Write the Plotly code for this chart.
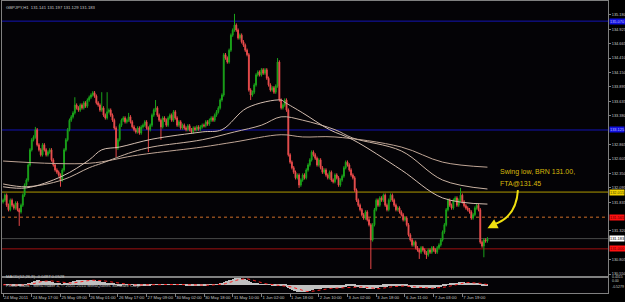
import plotly.graph_objects as go
import pandas as pd

# ---------------- data ----------------
chart_title = "GBPJPY,H1  131.141 131.197 131.129 131.183"

first_open = 131.84
closes = [
    131.87, 131.96, 131.78, 131.70, 131.87, 131.78, 131.73, 131.82, 131.70, 131.66,
    131.78, 131.96, 132.14, 132.23, 132.50, 132.77, 132.95, 133.00, 133.13, 132.86,
    132.77, 132.68, 132.86, 132.77, 132.68, 132.73, 132.77, 132.59, 132.50, 132.41,
    132.37, 132.32, 132.23, 132.41, 132.77, 132.95, 133.13, 133.30, 133.36, 133.43,
    133.57, 133.52, 133.48, 133.57, 133.52, 133.61, 133.55, 133.66, 133.71, 133.75,
    133.79, 133.73, 133.61, 133.57, 133.48, 133.52, 133.39, 133.34, 133.45, 133.48,
    133.39, 133.30, 133.16, 132.80, 132.95, 133.21, 133.30, 133.34, 133.27, 133.30,
    133.36, 133.27, 133.18, 133.13, 133.09, 133.16, 133.07, 133.18, 133.21, 133.27,
    133.16, 133.13, 133.21, 133.39, 133.48, 133.52, 133.39, 133.30, 133.18, 133.34,
    133.30, 133.21, 133.34, 133.39, 133.30, 133.45, 133.34, 133.21, 133.27, 133.16,
    133.21, 133.16, 133.13, 133.20, 133.13, 133.09, 133.16, 133.13, 133.18, 133.14,
    133.18, 133.21, 133.20, 133.27, 133.23, 133.30, 133.34, 133.30, 133.39, 133.45,
    133.52, 133.66, 133.75, 134.47, 134.41, 134.34, 134.55, 134.82, 134.91, 135.00,
    134.91, 134.77, 134.82, 134.70, 134.64, 134.55, 134.47, 133.84, 133.75, 133.80,
    133.93, 134.11, 134.16, 134.11, 134.20, 134.14, 134.20, 134.05, 133.93, 133.84,
    133.88, 133.80, 133.91, 134.34, 133.66, 133.52, 133.57, 133.66, 133.48, 132.68,
    132.55, 132.45, 132.37, 132.27, 132.32, 132.14, 132.23, 132.32, 132.27, 132.41,
    132.50, 132.59, 132.73, 132.68, 132.62, 132.50, 132.59, 132.45, 132.37, 132.41,
    132.32, 132.27, 132.37, 132.23, 132.20, 132.32, 132.27, 132.14, 132.23, 132.30,
    132.45, 132.55, 132.50, 132.41, 132.32, 132.27, 132.05, 131.87, 131.78, 131.70,
    131.61, 131.55, 131.66, 131.52, 131.43, 131.16, 131.43, 131.70, 131.87, 131.78,
    131.91, 131.87, 131.96, 131.78, 131.70, 131.87, 131.96, 131.87, 131.78, 131.70,
    131.73, 131.66, 131.61, 131.52, 131.55, 131.43, 131.25, 131.16, 131.07, 131.12,
    131.02, 130.98, 130.94, 131.02, 130.98, 130.93, 130.89, 130.98, 130.94, 131.02,
    130.98, 130.94, 131.02, 131.07, 131.16, 131.30, 131.43, 131.70, 131.87, 131.78,
    131.73, 131.87, 131.91, 131.78, 131.87, 131.96, 131.84, 131.77, 131.73, 131.70,
    131.66, 131.55, 131.61, 131.73, 131.78, 131.70, 131.12, 131.05, 131.16, 131.14, 131.18,
]
typical_wick = 0.03
high_spikes = {18: 133.18, 40: 133.71, 55: 133.80, 58: 133.80, 70: 133.43, 85: 133.66,
               95: 133.48, 129: 135.20, 153: 134.41, 255: 132.09}
low_spikes = {9: 131.41, 32: 132.11, 63: 132.64, 81: 132.73, 88: 132.95, 138: 133.66,
              165: 132.09, 205: 130.64, 232: 130.82, 236: 130.82, 268: 130.85}

# moving averages read at key points (bar index, price)
ma_slow_bars = [0, 48, 72, 83, 111, 129, 155, 167, 185, 222, 245, 270]
ma_slow_vals = [132.57, 132.53, 132.66, 132.71, 132.82, 132.91, 133.04, 133.00, 133.00, 132.82, 132.55, 132.46]
ma_mid_bars = [0, 13, 33, 48, 55, 72, 83, 111, 129, 144, 155, 167, 185, 195, 222, 245, 270]
ma_mid_vals = [132.16, 132.11, 132.23, 132.45, 132.53, 132.73, 132.82, 132.95, 133.09, 133.21, 133.36,
               133.30, 133.13, 132.98, 132.75, 132.23, 132.07]
ma_fast_bars = [0, 13, 33, 48, 55, 65, 83, 111, 122, 136, 155, 157, 167, 182, 195, 222, 245, 270]
ma_fast_vals = [132.11, 132.09, 132.30, 132.59, 132.77, 132.82, 132.96, 133.09, 133.13, 133.52, 133.66,
                133.62, 133.43, 133.13, 132.95, 132.41, 131.91, 131.80]

# horizontal levels
blue_levels = [135.07, 133.125]
blue_labels = ["135.070", "133.125"]
yellow_level, yellow_label = 132.015, "132.015"
orange_level, orange_label = 131.565, "131.565"
current_level, current_label = 131.183, "131.183"
red_level, red_label = 131.00, "131.000"

# price scale labels (those hidden under the coloured level boxes are omitted)
price_tick_labels = ["135.180", "134.925", "134.665", "134.410", "134.150", "133.895", "133.635",
                     "133.380", "132.865", "132.605", "132.350", "132.095", "131.835",
                     "131.320", "130.805", "130.550"]

time_tick_bars = [0, 16, 32, 48, 64, 80, 96, 112, 128, 144, 160, 176, 192, 208, 224, 240, 256]
time_tick_labels = ["24 May 2011", "24 May 17:00", "25 May 09:00", "26 May 01:00", "26 May 17:00",
                    "27 May 09:00", "30 May 02:00", "30 May 18:00", "31 May 10:00", "1 Jun 02:00",
                    "1 Jun 18:00", "2 Jun 10:00", "3 Jun 02:00", "3 Jun 18:00", "6 Jun 11:00",
                    "7 Jun 03:00", "7 Jun 19:00"]

macd_range = [-0.5279, 0.4315]
macd_labels = ["0.4315", "0.00", "-0.5279"]
macd_title = "MACD(12,26,9) -0.0487 0.0528"
copyright_text = "FXDD Malta - MetaTrader 4, \u00a9 2001-2010 MetaQuotes Software Corp."
note_line1 = "Swing low, BRN 131.00,"
note_line2 = "FTA@131.45"

# ---------------- derived OHLC ----------------
n = len(closes)
idx = list(range(n))
opens = [first_open] + closes[:-1]
highs, lows = [], []
for i in idx:
    o, c = opens[i], closes[i]
    h = max(o, c) + typical_wick
    l = min(o, c) - typical_wick
    if i in high_spikes:
        h = max(h, high_spikes[i])
    if i in low_spikes:
        l = min(l, low_spikes[i])
    highs.append(h)
    lows.append(l)

cs = pd.Series(closes)
macd = cs.ewm(span=12, adjust=False).mean() - cs.ewm(span=26, adjust=False).mean()
signal = macd.rolling(9, min_periods=1).mean()

# ---------------- figure ----------------
W, H = 625, 302
GRAY = "#808080"
TXT = "#c8c8c8"

ML, MR, MT, MB = 2, 17, 1, 8
PH = H - MT - MB
main_dom = [(H - MB - 276) / PH, 1.0]
sub_dom = [(H - MB - 293) / PH, (H - MB - 278) / PH]
def py(pix):  # pixel row -> paper y
    return (H - MB - pix) / PH

fig = go.Figure()
fig.add_trace(go.Candlestick(
    x=idx, open=opens, high=highs, low=lows, close=closes,
    increasing=dict(line=dict(color="#1aa31a", width=1), fillcolor="#1aa31a"),
    decreasing=dict(line=dict(color="#e84848", width=1), fillcolor="#f49090"),
    whiskerwidth=0, xaxis="x", yaxis="y", showlegend=False, hoverinfo="skip"))

for bars, vals, col in [(ma_slow_bars, ma_slow_vals, "#bfa595"),
                        (ma_mid_bars, ma_mid_vals, "#c9b2a2"),
                        (ma_fast_bars, ma_fast_vals, "#d4beb0")]:
    fig.add_trace(go.Scatter(x=bars, y=vals, mode="lines",
                             line=dict(color=col, width=1, shape="spline", smoothing=1.0),
                             xaxis="x", yaxis="y", showlegend=False, hoverinfo="skip"))

fig.add_trace(go.Bar(x=idx, y=list(macd), width=0.5, marker=dict(color="#c0c0c0", line=dict(width=0)),
                     xaxis="x2", yaxis="y2", showlegend=False, hoverinfo="skip"))
fig.add_trace(go.Scatter(x=idx, y=list(signal), mode="lines",
                         line=dict(color="#ff2020", width=1, dash="dot"),
                         xaxis="x2", yaxis="y2", showlegend=False, hoverinfo="skip"))

shapes = []
def hline(y, color, dash="solid", width=1):
    shapes.append(dict(type="line", xref="x domain", yref="y", x0=0, x1=1, y0=y, y1=y,
                       line=dict(color=color, width=width, dash=dash), layer="below"))

for b in blue_levels:
    hline(b, "#1414b4")
hline(yellow_level, "#b09a00")
hline(orange_level, "#8a4a1c", dash="dot", width=1.5)
hline(current_level, "#4a4a4a")
hline(red_level, "#a01010")

# curved hand-drawn arrow stroke (data coords)
shapes.append(dict(type="path", xref="x", yref="y",
                   path="M 287.0,132.05 Q 286.0,131.55 272.8,131.43",
                   line=dict(color="#f0e010", width=2)))

annotations = []
def right_label(y, text, bg, fg):
    annotations.append(dict(x=1, xref="paper", xanchor="left", xshift=1, y=y, yref="y",
                            text=text, showarrow=False, bgcolor=bg, borderpad=0,
                            font=dict(family="Arial", size=3.9, color=fg)))

for b, t in zip(blue_levels, blue_labels):
    right_label(b, t, "#1010e0", "#c0c0ff")
right_label(yellow_level, yellow_label, "#f0d000", "#404000")
right_label(orange_level, orange_label, "#ff1010", "#600000")
right_label(current_level, current_label, "#ffffff", "#000000")
right_label(red_level, red_label, "#ff1010", "#600000")

for lbl, pix in zip(macd_labels, [280.6, 285.0, 290.6]):
    annotations.append(dict(x=1, xref="paper", xanchor="left", xshift=2, y=py(pix), yref="paper",
                            text=lbl, showarrow=False,
                            font=dict(family="Arial", size=3.5, color=TXT)))

annotations.append(dict(x=0, xref="paper", xanchor="left", xshift=2, y=1, yref="paper", yanchor="top",
                        yshift=-2, text=chart_title, showarrow=False,
                        font=dict(family="Arial", size=4.2, color=TXT)))
annotations.append(dict(x=0, xref="paper", xanchor="left", xshift=2, y=py(281), yref="paper",
                        text=macd_title, showarrow=False,
                        font=dict(family="Arial", size=4.2, color=TXT)))
annotations.append(dict(x=0, xref="paper", xanchor="left", xshift=2, y=py(290), yref="paper",
                        text=copyright_text, showarrow=False,
                        font=dict(family="Arial", size=4.3, color=TXT)))
NOTE_COL = "#d8b80a"
annotations.append(dict(x=276, xref="x", xanchor="left", y=132.37, yref="y", text=note_line1,
                        showarrow=False, font=dict(family="Arial", size=7, color=NOTE_COL)))
annotations.append(dict(x=276, xref="x", xanchor="left", y=132.17, yref="y", text=note_line2,
                        showarrow=False, font=dict(family="Arial", size=7, color=NOTE_COL)))
annotations.append(dict(x=270.0, y=131.37, xref="x", yref="y", ax=6, ay=-3, text="",
                        showarrow=True, arrowhead=2, arrowsize=1, arrowwidth=2,
                        arrowcolor="#f0e010"))

fig.update_layout(
    width=W, height=H,
    margin=dict(l=ML, r=MR, t=MT, b=MB, autoexpand=False),
    paper_bgcolor="#000000", plot_bgcolor="#040306",
    shapes=shapes, annotations=annotations,
    bargap=0,
    xaxis=dict(domain=[0, 1], range=[-0.6, 337.2], anchor="y", showticklabels=False,
               showgrid=False, zeroline=False, showline=True, mirror=True, linecolor=GRAY,
               linewidth=1, rangeslider=dict(visible=False), ticks="", automargin=False),
    yaxis=dict(domain=main_dom, range=[130.515, 135.43], side="right", anchor="x",
               tickvals=[float(t) for t in price_tick_labels], ticktext=price_tick_labels,
               tickfont=dict(family="Arial", size=3.9, color=TXT), ticks="outside",
               ticklen=2, tickcolor=GRAY, ticklabelstandoff=0,
               showgrid=False, zeroline=False, automargin=False,
               showline=True, mirror=True, linecolor=GRAY, linewidth=1),
    xaxis2=dict(domain=[0, 1], range=[-0.6, 337.2], anchor="y2", matches="x",
                tickvals=time_tick_bars, ticktext=time_tick_labels, tickangle=0,
                ticklabelposition="outside right", automargin=False,
                tickfont=dict(family="Arial", size=4.2, color=TXT), ticks="outside",
                ticklen=3, tickcolor=GRAY, showgrid=False, zeroline=False,
                showline=True, mirror=True, linecolor=GRAY, linewidth=1),
    yaxis2=dict(domain=sub_dom, range=[macd_range[0] - 0.02, macd_range[1] + 0.02], side="right",
                anchor="x2", showticklabels=False, automargin=False, ticks="",
                showgrid=False, zeroline=False, showline=True, mirror=True,
                linecolor=GRAY, linewidth=1),
)

fig.write_html("out.html")
